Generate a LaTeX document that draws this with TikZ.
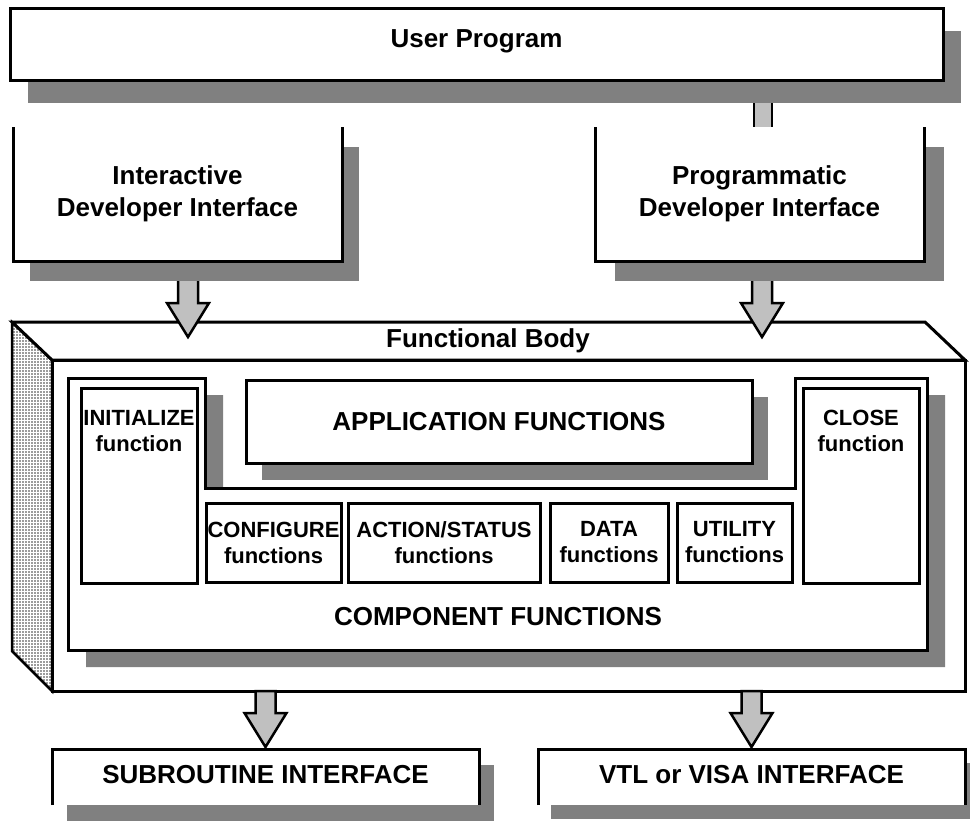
\documentclass[tikz,border=0pt]{standalone}
\usepackage{fontspec}
\setmainfont{Liberation Sans}
\usetikzlibrary{calc,patterns}
\definecolor{shadowgray}{HTML}{808080}
\definecolor{arrowgray}{HTML}{C0C0C0}
\definecolor{facegray}{HTML}{9C9C9C}
\newcommand{\blockarrow}[2]{%
  \draw[arrowstyle] let \p1=(#1), \p2=(#2) in
    (\x1-10pt,\y1) -- (\x1+10pt,\y1) -- (\x1+10pt,\y2+34pt) -- (\x1+21pt,\y2+34pt)
    -- (\x1,\y2) -- (\x1-21pt,\y2+34pt) -- (\x1-10pt,\y2+34pt) -- cycle;}
\newcommand{\boxshadow}[3]{%
  \fill[shadowgray] ([xshift=#2pt,yshift=-#3pt]#1.north west) rectangle ([xshift=#2pt,yshift=-#3pt]#1.south east);}
\begin{document}
\begin{tikzpicture}[x=1pt,y=-1pt,line join=miter,
  geo/.style={inner sep=0pt,outer sep=0pt,anchor=north west,draw=none},
  outl/.style={line width=3pt,draw=black},
  bigtext/.style={font=\fontsize{26}{32}\selectfont\bfseries,align=center,inner sep=0pt},
  smalltext/.style={font=\fontsize{22}{26}\selectfont\bfseries,align=center,inner sep=0pt},
  arrowstyle/.style={draw=black,line width=2.5pt,fill=arrowgray,line join=miter}]
\useasboundingbox (0,0) rectangle (970,822);
\clip (0,0) rectangle (970,822);
% ---- geometry of the boxes
\path
  node[geo,minimum width=933pt,minimum height=72pt] (up) at (10,8) {}
  node[geo,minimum width=329pt,minimum height=134pt] (idi) at (13,127) {}
  node[geo,minimum width=329pt,minimum height=134pt] (pdi) at (595,127) {}
  node[geo,minimum width=913pt,minimum height=331pt] (front) at (52,360) {}
  node[geo,minimum width=506pt,minimum height=83pt] (app) at (246,380) {}
  node[geo,minimum width=116pt,minimum height=195pt] (init) at (81,388) {}
  node[geo,minimum width=116pt,minimum height=195pt] (close) at (803,388) {}
  node[geo,minimum width=135pt,minimum height=79pt] (conf) at (206,503) {}
  node[geo,minimum width=192pt,minimum height=79pt] (act) at (348,503) {}
  node[geo,minimum width=118pt,minimum height=79pt] (data) at (550,503) {}
  node[geo,minimum width=115pt,minimum height=79pt] (util) at (677,503) {}
  node[geo,minimum width=427pt,minimum height=56pt] (sub) at (52,749) {}
  node[geo,minimum width=427pt,minimum height=56pt] (vtl) at (538,749) {};
% ---- functional body (3D box)
\fill[facegray] (12,322) -- (front.north west) -- (front.south west) -- (12,651) -- cycle;
\fill[pattern=grid,pattern color=white] (12,322) -- (front.north west) -- (front.south west) -- (12,651) -- cycle;
\draw[line width=2.5pt] (12,322) -- (front.north west) -- (front.south west) -- (12,651) -- cycle;
\draw[outl,fill=white] (12,322) -- (925,322) -- (front.north east) -- (front.north west) -- cycle;
\draw[outl,fill=white] (front.north west) rectangle (front.south east);
\node[bigtext] (fbt) at (488,341) {Functional Body};
% ---- component functions frame
\fill[shadowgray,shift={(18,17)}] (68,378) -- (205,378) -- (205,488) -- (795,488) -- (795,378) -- (927,378) -- (927,650) -- (68,650) -- cycle;
\draw[outl,fill=white] (68,378) -- (205,378) -- (205,488) -- (795,488) -- (795,378) -- (927,378) -- (927,650) -- (68,650) -- cycle;
\node[bigtext] (cft) at (498,617) {COMPONENT FUNCTIONS};
% ---- application functions
\boxshadow{app}{16}{17}
\draw[outl,fill=white] (app.north west) rectangle (app.south east);
\node[bigtext] at (app.center) {APPLICATION FUNCTIONS};
% ---- inner boxes
\foreach \b in {init,close,conf,act,data,util}
  \draw[outl,fill=white] (\b.north west) rectangle (\b.south east);
\node[smalltext,anchor=north] at ([yshift=-22pt]init.north) {INITIALIZE\\function};
\node[smalltext,anchor=north] at ([yshift=-22pt]close.north) {CLOSE\\function};
\node[smalltext] at (conf.center) {CONFIGURE\\functions};
\node[smalltext] at (act.center) {ACTION/STATUS\\functions};
\node[smalltext] at (data.center) {DATA\\functions};
\node[smalltext] at (util.center) {UTILITY\\functions};
% ---- arrows into the body
\coordinate (s1) at ([xshift=10.5pt]idi.south);
\coordinate (t1) at ($(s1 |- front.north)+(0,-23)$);
\coordinate (s2) at ([xshift=2.5pt]pdi.south);
\coordinate (t2) at ($(s2 |- front.north)+(0,-23)$);
\blockarrow{s1}{t1}
\blockarrow{s2}{t2}
% ---- connector user program -> programmatic interface
\coordinate (b2) at ([xshift=3.5pt]pdi.north);
\coordinate (b1) at (b2 |- up.south);
\fill[arrowgray] ([xshift=-9pt]b1) rectangle ([xshift=9pt]b2);
\draw[line width=2.5pt] ([xshift=-9pt]b1) -- ([xshift=-9pt]b2) ([xshift=9pt]b1) -- ([xshift=9pt]b2);
% ---- top boxes
\boxshadow{up}{18}{23}
\boxshadow{idi}{17}{20}
\boxshadow{pdi}{20}{20}
\draw[outl,fill=white] (up.north west) rectangle (up.south east);
\fill[white] (idi.north west) rectangle (idi.south east);
\draw[outl] (idi.north west) -- (idi.south west) -- (idi.south east) -- (idi.north east);
\fill[white] (pdi.north west) rectangle (pdi.south east);
\draw[outl] (pdi.north west) -- (pdi.south west) -- (pdi.south east) -- (pdi.north east);
\node[bigtext] at ([yshift=3pt]up.center) {User Program};
\node[bigtext] at (idi.center) {Interactive\\Developer Interface};
\node[bigtext] at (pdi.center) {Programmatic\\Developer Interface};
% ---- bottom boxes
\coordinate (s3) at (sub.north |- front.south);
\coordinate (t3) at ([yshift=2pt]sub.north);
\coordinate (s4) at (vtl.north |- front.south);
\coordinate (t4) at ([yshift=2pt]vtl.north);
\boxshadow{sub}{15}{16}
\boxshadow{vtl}{13}{14}
\fill[white] (sub.north west) rectangle (sub.south east);
\draw[outl] (sub.south west) -- (sub.north west) -- (sub.north east) -- (sub.south east);
\fill[white] (vtl.north west) rectangle (vtl.south east);
\draw[outl] (vtl.south west) -- (vtl.north west) -- (vtl.north east) -- (vtl.south east);
\node[bigtext] at ([yshift=2pt]sub.center) {SUBROUTINE INTERFACE};
\node[bigtext] at ([yshift=2pt]vtl.center) {VTL or VISA INTERFACE};
\blockarrow{s3}{t3}
\blockarrow{s4}{t4}
\end{tikzpicture}
\end{document}
